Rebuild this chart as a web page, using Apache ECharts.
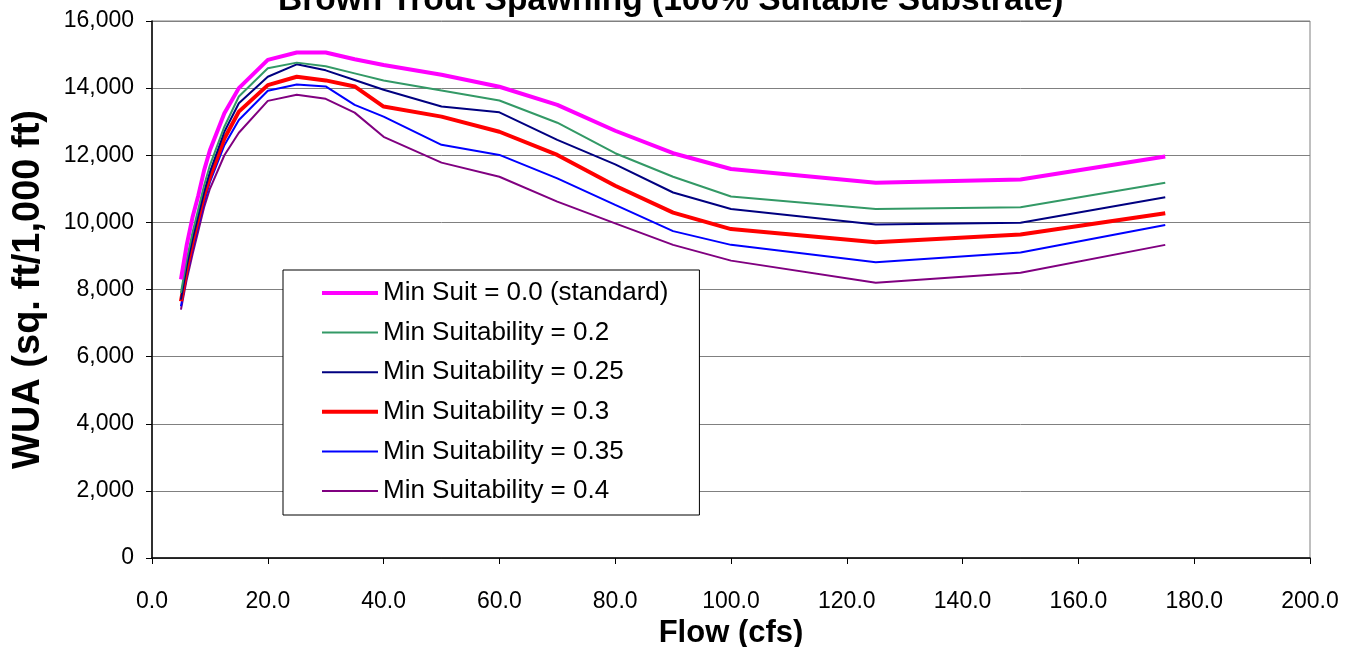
<!DOCTYPE html>
<html>
<head>
<meta charset="utf-8">
<script src="https://cdn.jsdelivr.net/npm/echarts@6/dist/echarts.min.js"></script>
<style>
html,body{margin:0;padding:0;background:#fff;}
#chart{width:1357px;height:647px;}
</style>
</head>
<body>
<div id="chart"></div>
<script>
const flows = [5, 6, 7, 8, 9, 10, 12.5, 15, 20, 25, 30, 35, 40, 50, 60, 70, 80, 90, 100, 125, 150, 175];
const seriesNames = [
  'Min Suit = 0.0 (standard)',
  'Min Suitability = 0.2',
  'Min Suitability = 0.25',
  'Min Suitability = 0.3',
  'Min Suitability = 0.35',
  'Min Suitability = 0.4'
];
const suit00  = [8300, 9330, 10150, 10800, 11550, 12150, 13250, 14000, 14840, 15060, 15060, 14860, 14690, 14400, 14040, 13500, 12730, 12060, 11590, 11180, 11280, 11960];
const suit020 = [7900, 8900, 9700, 10400, 11100, 11700, 12850, 13750, 14590, 14760, 14650, 14440, 14230, 13930, 13630, 12970, 12060, 11360, 10770, 10400, 10450, 11180];
const suit025 = [7700, 8700, 9500, 10200, 10900, 11500, 12700, 13550, 14340, 14710, 14530, 14240, 13950, 13450, 13280, 12460, 11730, 10890, 10400, 9940, 9990, 10750];
const suit030 = [7650, 8600, 9400, 10100, 10800, 11350, 12500, 13300, 14090, 14340, 14230, 14050, 13450, 13150, 12700, 12010, 11090, 10290, 9800, 9410, 9640, 10270];
const suit035 = [7500, 8400, 9200, 9900, 10600, 11200, 12300, 13050, 13920, 14110, 14050, 13500, 13150, 12310, 12010, 11310, 10520, 9740, 9330, 8810, 9100, 9920];
const suit040 = [7400, 8300, 9050, 9750, 10450, 11000, 12000, 12670, 13620, 13800, 13680, 13270, 12550, 11780, 11360, 10620, 9970, 9330, 8860, 8200, 8500, 9330];
const allValues = [suit00, suit020, suit025, suit030, suit035, suit040];
const colors = ['#FF00FF', '#339966', '#000080', '#FF0000', '#0000FF', '#800080'];
const widths = [4, 2, 2, 4, 2, 2];
const xTicks = {min: 0, max: 200, interval: 20};
const yTicks = {min: 0, max: 16000, interval: 2000};

const chart = echarts.init(document.getElementById('chart'), null, {renderer: 'canvas'});
const FONT = 'Liberation Sans, Arial, sans-serif';
chart.setOption({
  backgroundColor: '#ffffff',
  animation: false,
  title: {
    text: 'Brown Trout Spawning (100% Suitable Substrate)',
    left: 273,
    top: -21,
    textStyle: {fontFamily: FONT, fontSize: 33.5, fontWeight: 'bold', color: '#000'}
  },
  grid: {left: 152, right: 47, top: 21, bottom: 89, containLabel: false, outerBoundsMode: 'none', show: true, borderColor: '#808080', borderWidth: 1, backgroundColor: 'transparent'},
  legend: {
    orient: 'vertical',
    left: 283, top: 270,
    padding: [10, 31, 11, 37],
    itemWidth: 56, itemHeight: 14, itemGap: 13.6,
    backgroundColor: '#ffffff',
    borderColor: '#000000', borderWidth: 1, borderRadius: 0,
    itemStyle: {opacity: 0},
    textStyle: {fontFamily: FONT, fontSize: 26, color: '#000'},
    data: seriesNames.map((n, i) => ({name: n, lineStyle: {color: colors[i], width: widths[i]}}))
  },
  xAxis: {
    type: 'value', min: xTicks.min, max: xTicks.max, interval: xTicks.interval,
    name: 'Flow (cfs)', nameLocation: 'middle', nameGap: 57,
    nameTextStyle: {fontFamily: FONT, fontSize: 31, fontWeight: 'bold', color: '#000'},
    axisLine: {lineStyle: {color: '#000', width: 1.5}},
    axisTick: {show: true, inside: false, length: 6, lineStyle: {color: '#000'}},
    axisLabel: {margin: 32, fontFamily: FONT, fontSize: 23, color: '#000', formatter: v => v.toFixed(1)},
    splitLine: {show: false}
  },
  yAxis: {
    type: 'value', min: yTicks.min, max: yTicks.max, interval: yTicks.interval,
    name: 'WUA (sq. ft/1,000 ft)', nameLocation: 'middle', nameGap: 104,
    nameTextStyle: {fontFamily: FONT, fontSize: 38, fontWeight: 'bold', color: '#000'},
    axisLine: {show: true, lineStyle: {color: '#000', width: 1.5}},
    axisTick: {show: true, inside: false, length: 6, lineStyle: {color: '#000'}},
    axisLabel: {margin: 18, fontFamily: FONT, fontSize: 23, color: '#000', formatter: v => v.toLocaleString('en-US')},
    splitLine: {show: true, lineStyle: {color: '#808080', width: 1}}
  },
  series: seriesNames.map((name, i) => ({
    name: name,
    type: 'line',
    symbol: 'none',
    data: flows.map((f, j) => [f, allValues[i][j]]),
    lineStyle: {color: colors[i], width: widths[i]},
    itemStyle: {color: colors[i]},
    z: 10 - i
  }))
});
</script>
</body>
</html>
